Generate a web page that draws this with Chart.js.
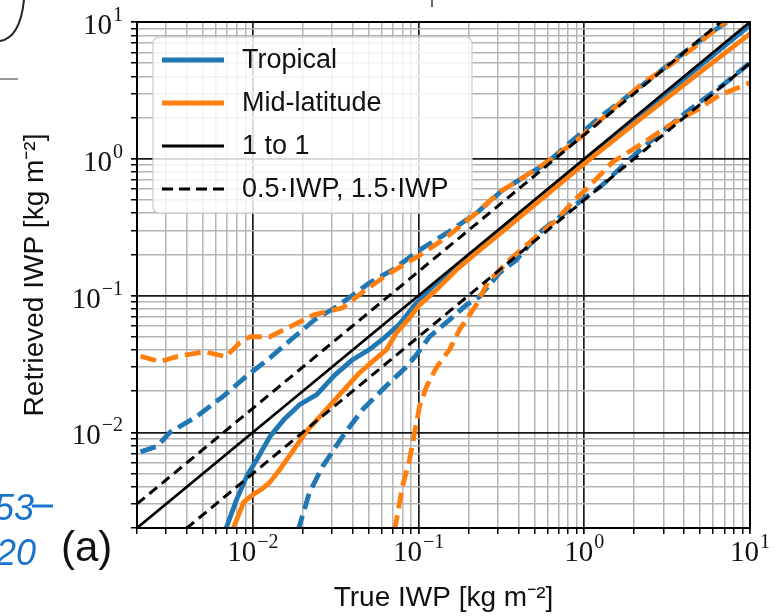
<!DOCTYPE html>
<html>
<head>
<meta charset="utf-8">
<script src="https://cdn.jsdelivr.net/npm/chart.js@4.4.0/dist/chart.umd.min.js"></script>
<style>
  html, body { margin: 0; padding: 0; background: #fff; }
  #wrap { width: 781px; height: 616px; position: relative; }
</style>
</head>
<body>
<div id="wrap"><canvas id="iwpChart"></canvas></div>
<script>
// Retrieved vs true IWP (log-log), panel (a)

const axisMin = 0.002;
const axisMax = 10;
const majorVals = [0.01, 0.1, 1, 10];
const majorExps = [-2, -1, 0, 1];

// reference lines
const refX = [0.002, 10];
const refOneY = [0.002, 10];
const refHalfY = [0.001, 5];
const refOneHalfY = [0.003, 15];

// Tropical median
const tropX = [0.0068, 0.0080, 0.0092, 0.0106, 0.0127, 0.0154, 0.0192, 0.0243, 0.0312, 0.040, 0.0507, 0.0607, 0.0769, 0.0973, 0.121, 0.169, 0.25, 0.5, 1, 2, 5, 10];
const tropY = [0.0019, 0.00325, 0.00479, 0.00636, 0.00935, 0.0124, 0.016, 0.0189, 0.0262, 0.034, 0.0405, 0.048, 0.062, 0.0885, 0.116, 0.162, 0.237, 0.475, 0.96, 1.93, 4.8, 9.5];

// Tropical upper / lower percentile
const tropHiX = [0.0021, 0.00264, 0.00316, 0.0046, 0.0066, 0.0091, 0.0127, 0.0167, 0.0236, 0.032, 0.0507, 0.0697, 0.1014, 0.148, 0.223, 0.321, 0.59, 0.847, 1.28, 2.14, 3.58, 5.43, 7.47, 10];
const tropHiY = [0.0072, 0.0079, 0.0100, 0.0131, 0.0183, 0.0256, 0.0351, 0.0468, 0.0666, 0.0828, 0.124, 0.154, 0.215, 0.286, 0.40, 0.589, 0.927, 1.36, 2.07, 3.31, 5.38, 7.93, 10.2, 13];
const tropLoX = [0.0187, 0.022, 0.0264, 0.0348, 0.046, 0.0607, 0.0847, 0.0973, 0.1164, 0.1537, 0.1946, 0.233, 0.307, 0.389, 0.558, 0.847, 1.28, 1.79, 2.46, 4.11, 7.16, 10];
const tropLoY = [0.0019, 0.00366, 0.00565, 0.00935, 0.0147, 0.0206, 0.0303, 0.037, 0.050, 0.0665, 0.0855, 0.098, 0.146, 0.182, 0.301, 0.443, 0.64, 0.94, 1.32, 2.18, 3.60, 5.04];

// Mid-latitude median
const midX = [0.0075, 0.0088, 0.0099, 0.0113, 0.0127, 0.0146, 0.0177, 0.0211, 0.0268, 0.0334, 0.0441, 0.0543, 0.0641, 0.0736, 0.0883, 0.1014, 0.128, 0.169, 0.223, 0.35, 0.5, 1, 2, 5, 10];
const midY = [0.0019, 0.00309, 0.00348, 0.00384, 0.00433, 0.00538, 0.0075, 0.0102, 0.014, 0.0189, 0.0273, 0.034, 0.0403, 0.0535, 0.0688, 0.0855, 0.110, 0.154, 0.205, 0.32, 0.46, 0.92, 1.8, 4.3, 8.2];

// Mid-latitude upper / lower percentile
const midHiX = [0.0021, 0.00275, 0.00348, 0.00507, 0.00688, 0.00835, 0.0096, 0.01265, 0.0167, 0.0233, 0.0348, 0.046, 0.0669, 0.0973, 0.140, 0.223, 0.307, 0.448, 0.615, 0.933, 1.416, 2.23, 3.25, 4.48, 6.24, 10];
const midHiY = [0.036, 0.0329, 0.0358, 0.0389, 0.0358, 0.0453, 0.050, 0.050, 0.0591, 0.0723, 0.0813, 0.106, 0.146, 0.191, 0.255, 0.40, 0.569, 0.757, 0.973, 1.41, 2.18, 3.54, 4.79, 6.37, 8.9, 13.5];
const midLoX = [0.0716, 0.080, 0.0883, 0.0947, 0.1014, 0.1117, 0.128, 0.1537, 0.1766, 0.223, 0.261, 0.353, 0.486, 0.678, 0.871, 1.03, 1.47, 2.14, 3.25, 4.93, 6.5, 10];
const midLoY = [0.0019, 0.00404, 0.00636, 0.0100, 0.0155, 0.0216, 0.0297, 0.0403, 0.0563, 0.0855, 0.124, 0.182, 0.255, 0.356, 0.50, 0.60, 0.94, 1.25, 1.75, 2.33, 2.90, 3.60];

const legendLabels = ['Tropical', 'Mid-latitude', '1 to 1', '0.5\u00b7IWP, 1.5\u00b7IWP'];

const BLUE = '#1f77b4';
const ORANGE = '#ff7f0e';
const SANS = '"Liberation Sans", Arial, sans-serif';
const SERIF = '"Liberation Serif", "DejaVu Serif", serif';

function pts(xs, ys) {
    return xs.map((x, i) => ({ x: x, y: ys[i] }));
}

function lineSet(label, xs, ys, color, width, dash) {
    return {
        label: label,
        data: pts(xs, ys),
        borderColor: color,
        backgroundColor: color,
        borderWidth: width,
        borderDash: dash || [],
        borderCapStyle: dash ? 'butt' : 'round',
        borderJoinStyle: 'round',
        showLine: true,
        pointRadius: 0,
        pointHoverRadius: 0,
        tension: 0,
        clip: 0
    };
}

function isMajor(v) {
    return majorVals.some(m => Math.abs(v / m - 1) < 1e-6);
}

function logTicks(scale) {
    const out = [];
    for (let e = -3; e <= 1; e++) {
        for (let m = 1; m <= 9; m++) {
            const v = m * Math.pow(10, e);
            if (v >= axisMin * 0.999 && v <= axisMax * 1.001) out.push({ value: v, major: isMajor(v) });
        }
    }
    scale.ticks = out;
}

function drawPow(ctx, exp, x, y, mode) {
    const base = '10';
    const sup = exp < 0 ? '\u2212' + (-exp) : String(exp);
    ctx.font = '29px ' + SERIF;
    const wb = ctx.measureText(base).width;
    ctx.font = '20px ' + SERIF;
    const ws = ctx.measureText(sup).width;
    const total = wb + 1 + ws;
    let x0 = mode === 'right' ? x - total : x - total / 2;
    ctx.fillStyle = '#111';
    ctx.textAlign = 'left';
    ctx.textBaseline = 'alphabetic';
    ctx.font = '29px ' + SERIF;
    ctx.fillText(base, x0, y);
    ctx.font = '20px ' + SERIF;
    ctx.fillText(sup, x0 + wb + 1, y - 13);
}

const decorPlugin = {
    id: 'decor',
    afterDatasetsDraw(chart) {
        const ctx = chart.ctx;
        const a = chart.chartArea;
        ctx.save();
        // frame
        ctx.strokeStyle = '#000';
        ctx.lineWidth = 2;
        ctx.strokeRect(a.left, a.top, a.right - a.left, a.bottom - a.top);

        // legend box
        const bx = a.left + 16, by = a.top + 15, bw = 319, bh = 176;
        ctx.beginPath();
        ctx.roundRect(bx, by, bw, bh, 6);
        ctx.fillStyle = 'rgba(255,255,255,0.82)';
        ctx.fill();
        ctx.strokeStyle = 'rgba(200,200,200,0.9)';
        ctx.lineWidth = 1.2;
        ctx.stroke();

        const styles = [
            { color: BLUE, width: 5, dash: [] },
            { color: ORANGE, width: 5, dash: [] },
            { color: '#000', width: 2.8, dash: [] },
            { color: '#000', width: 3.2, dash: [11, 6] }
        ];
        legendLabels.forEach((txt, i) => {
            const yy = by + 23 + i * 43;
            const st = styles[i];
            ctx.beginPath();
            ctx.setLineDash(st.dash);
            ctx.strokeStyle = st.color;
            ctx.lineWidth = st.width;
            ctx.lineCap = 'butt';
            ctx.moveTo(bx + 9, yy);
            ctx.lineTo(bx + 71, yy);
            ctx.stroke();
            ctx.setLineDash([]);
            ctx.fillStyle = '#111';
            ctx.font = '27px ' + SANS;
            ctx.textAlign = 'left';
            ctx.textBaseline = 'middle';
            ctx.fillText(txt, bx + 89, yy + 1);
        });
        ctx.restore();
    },
    afterDraw(chart) {
        const ctx = chart.ctx;
        const a = chart.chartArea;
        const xs = chart.scales.x, ys = chart.scales.y;
        ctx.save();
        // tick labels with superscript exponents
        majorVals.forEach((v, i) => {
            drawPow(ctx, majorExps[i], xs.getPixelForValue(v), a.bottom + 33, 'center');
            drawPow(ctx, majorExps[i], a.left - 14, ys.getPixelForValue(v) + 12, 'right');
        });

        // panel letter and cropped page fragments
        ctx.fillStyle = '#111';
        ctx.font = '42px ' + SANS;
        ctx.textAlign = 'left';
        ctx.textBaseline = 'alphabetic';
        ctx.fillText('(a)', 61, 561);

        ctx.fillStyle = '#1874cd';
        ctx.font = 'italic 36px ' + SANS;
        ctx.fillText('53', -6, 520);
        ctx.fillText('20', -4, 565);
        ctx.strokeStyle = '#1874cd';
        ctx.lineWidth = 3;
        ctx.beginPath();
        ctx.moveTo(32, 506);
        ctx.lineTo(53, 506);
        ctx.stroke();

        ctx.strokeStyle = '#222';
        ctx.lineWidth = 2;
        ctx.beginPath();
        ctx.moveTo(0, 41);
        ctx.quadraticCurveTo(20, 38, 24, 0);
        ctx.stroke();

        ctx.strokeStyle = '#999';
        ctx.beginPath();
        ctx.moveTo(0, 79);
        ctx.lineTo(18, 79);
        ctx.stroke();

        ctx.strokeStyle = '#333';
        ctx.lineWidth = 1.5;
        ctx.beginPath();
        ctx.moveTo(432, 0);
        ctx.lineTo(432, 7);
        ctx.stroke();
        ctx.restore();
    }
};

const gridOpts = {
    color: c => (c.tick && isMajor(c.tick.value)) ? '#1a1a1a' : '#b4b4b4',
    lineWidth: c => (c.tick && isMajor(c.tick.value)) ? 1.7 : 1.5,
    tickColor: '#000',
    tickLength: 6,
    drawTicks: true
};

new Chart(document.getElementById('iwpChart'), {
    type: 'scatter',
    data: {
        datasets: [
            lineSet('1 to 1', refX, refOneY, '#000', 2.6),
            lineSet('0.5 IWP', refX, refHalfY, '#000', 3, [10, 6]),
            lineSet('1.5 IWP', refX, refOneHalfY, '#000', 3, [10, 6]),
            lineSet('Mid-latitude', midX, midY, ORANGE, 4.8),
            lineSet('Mid-latitude high', midHiX, midHiY, ORANGE, 4.8, [16, 7]),
            lineSet('Mid-latitude low', midLoX, midLoY, ORANGE, 4.8, [16, 7]),
            lineSet('Tropical', tropX, tropY, BLUE, 4.8),
            lineSet('Tropical high', tropHiX, tropHiY, BLUE, 4.8, [16, 7]),
            lineSet('Tropical low', tropLoX, tropLoY, BLUE, 4.8, [16, 7])
        ]
    },
    options: {
        responsive: true,
        maintainAspectRatio: false,
        animation: false,
        layout: { padding: { left: 0, top: 22, right: 31, bottom: 0 } },
        plugins: {
            legend: { display: false },
            tooltip: { enabled: false }
        },
        scales: {
            x: {
                type: 'logarithmic',
                min: axisMin,
                max: axisMax,
                afterBuildTicks: logTicks,
                afterFit: s => { s.height = 88; },
                grid: gridOpts,
                border: { display: false },
                ticks: { display: false },
                title: {
                    display: true,
                    text: 'True IWP [kg m\u207b\u00b2]',
                    color: '#111',
                    font: { family: SANS, size: 28 },
                    padding: { top: 0, bottom: 1 }
                }
            },
            y: {
                type: 'logarithmic',
                min: axisMin,
                max: axisMax,
                afterBuildTicks: logTicks,
                afterFit: s => { s.width = 137; },
                grid: gridOpts,
                border: { display: false },
                ticks: { display: false },
                title: {
                    display: true,
                    text: 'Retrieved IWP [kg m\u207b\u00b2]',
                    color: '#111',
                    font: { family: SANS, size: 28 },
                    padding: { top: 18, bottom: 0 }
                }
            }
        }
    },
    plugins: [decorPlugin]
});
</script>
</body>
</html>
